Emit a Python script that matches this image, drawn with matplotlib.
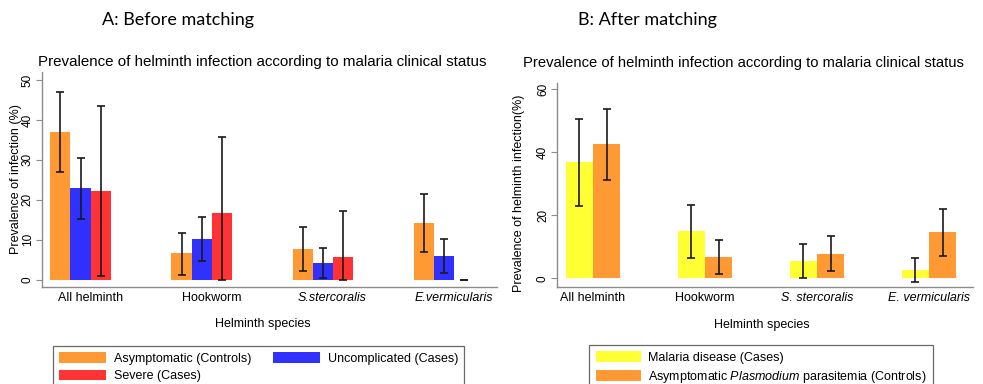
import matplotlib
matplotlib.use("Agg")
import matplotlib.pyplot as plt
import numpy as np
from matplotlib.patches import Patch

plt.rcParams['font.family'] = ['Liberation Sans', 'DejaVu Sans']
plt.rcParams['mathtext.fontset'] = 'custom'
plt.rcParams['mathtext.it'] = 'Liberation Sans:italic'
plt.rcParams['mathtext.rm'] = 'Liberation Sans'

# ---------------- data ----------------
species = ["All helminth", "Hookworm", "S.stercoralis", "E.vermicularis"]
species_b = ["All helminth", "Hookworm", "S. stercoralis", "E. vermicularis"]
italic_flags = [False, False, True, True]

# Panel A: before matching
asym_a = [36.9, 6.6, 7.7, 14.1]
asym_a_lo = [26.9, 1.3, 2.3, 7.0]
asym_a_hi = [46.9, 11.7, 13.2, 21.4]
uncomp_a = [22.9, 10.1, 4.2, 5.9]
uncomp_a_lo = [15.2, 4.8, 0.5, 1.6]
uncomp_a_hi = [30.5, 15.7, 8.0, 10.3]
severe_a = [22.2, 16.6, 5.6, 0.0]
severe_a_lo = [0.9, 0.0, 0.0, 0.0]
severe_a_hi = [43.5, 35.7, 17.3, 0.0]

# Panel B: after matching
cases_b = [36.8, 14.9, 5.4, 2.75]
cases_b_lo = [23.1, 6.6, 0.1, -1.2]
cases_b_hi = [50.5, 23.4, 10.8, 6.6]
ctrl_b = [42.5, 6.7, 7.8, 14.6]
ctrl_b_lo = [31.2, 1.5, 2.2, 7.1]
ctrl_b_hi = [53.9, 12.1, 13.5, 21.9]

yticks_a = [0, 10, 20, 30, 40, 50]
yticks_b = [0, 20, 40, 60]

ORANGE = "#FF9933"
BLUE = "#3030FF"
RED = "#FF3333"
YELLOW = "#FFFF33"
AXCOL = "#8c8c8c"
ERRCOL = "#1a1a1a"

W, H = 983, 384
fig = plt.figure(figsize=(W / 100, H / 100), dpi=100)


def px_axes(x0, x1, ytop, ybot):
    return fig.add_axes([x0 / W, 1 - ybot / H, (x1 - x0) / W, (ybot - ytop) / H])


def style_axes(ax, yticks, ylabel):
    for s in ["top", "right"]:
        ax.spines[s].set_visible(False)
    for s in ["left", "bottom"]:
        ax.spines[s].set_color(AXCOL)
        ax.spines[s].set_linewidth(1.0)
    ax.set_yticks(yticks)
    ax.set_yticklabels([str(t) for t in yticks], rotation=90, va="center", fontsize=8.5)
    ax.tick_params(axis="y", length=4, width=0.8, color=AXCOL, pad=2)
    ax.tick_params(axis="x", length=0, pad=4)
    ax.set_ylabel(ylabel, fontsize=9)
    ax.set_xlabel("Helminth species", fontsize=9, labelpad=6)


def errbars(ax, x, vals, lo, hi):
    vals = np.array(vals); lo = np.array(lo); hi = np.array(hi)
    ax.errorbar(x, vals, yerr=[vals - lo, hi - vals], fmt="none", ecolor=ERRCOL,
                elinewidth=1.2, capsize=2.6, capthick=1.2, zorder=3)


# ---------------- Panel A ----------------
axA = px_axes(42, 497, 72, 286.7)
g = np.arange(len(species))
bw = 1 / 6
series_a = [(asym_a, asym_a_lo, asym_a_hi, ORANGE),
            (uncomp_a, uncomp_a_lo, uncomp_a_hi, BLUE),
            (severe_a, severe_a_lo, severe_a_hi, RED)]
for i, (v, lo, hi, c) in enumerate(series_a):
    x = g + (i - 1) * bw
    axA.bar(x, v, width=bw, color=c, edgecolor="none", zorder=2)
    errbars(axA, x, v, lo, hi)
axA.set_xlim(-0.318, 3.437)
axA.set_ylim(-1.75, 52)
axA.set_xticks(g + 0.08)
axA.set_xticklabels(species, fontsize=9)
for lab, it in zip(axA.get_xticklabels(), italic_flags):
    if it:
        lab.set_fontstyle("italic")
style_axes(axA, yticks_a, "Prevalence of infection (%)")
axA.yaxis.set_label_coords(-0.044, 0.5)
axA.xaxis.set_label_coords((262.7 - 42) / (497 - 42), -0.148)

# ---------------- Panel B ----------------
axB = px_axes(557.3, 973, 82.7, 286.7)
bw2 = 0.245
series_b = [(cases_b, cases_b_lo, cases_b_hi, YELLOW),
            (ctrl_b, ctrl_b_lo, ctrl_b_hi, ORANGE)]
for i, (v, lo, hi, c) in enumerate(series_b):
    x = g + (i - 0.5) * bw2
    axB.bar(x, v, width=bw2, color=c, edgecolor="none", zorder=2)
    errbars(axB, x, v, lo, hi)
axB.set_xlim(-0.319, 3.393)
axB.set_ylim(-2.67, 62.1)
axB.set_xticks(g)
axB.set_xticklabels(species_b, fontsize=9)
for lab, it in zip(axB.get_xticklabels(), italic_flags):
    if it:
        lab.set_fontstyle("italic")
style_axes(axB, yticks_b, "Prevalence of helminth infection(%)")
axB.yaxis.set_label_coords(-0.078, 0.46)
axB.xaxis.set_label_coords((761.7 - 557.3) / (973 - 557.3), -0.16)

# ---------------- titles ----------------
title = "Prevalence of helminth infection according to malaria clinical status"
fig.text(262 / W, 1 - 62 / H, title, ha="center", va="center", fontsize=10.9)
fig.text(743 / W, 1 - 62.7 / H, title, ha="center", va="center", fontsize=10.6)
fig.text(177.5 / W, 1 - 20 / H, "A: Before matching", ha="center", va="center",
         fontsize=13, family=["Lato", "DejaVu Sans"])
fig.text(647 / W, 1 - 20 / H, "B: After matching", ha="center", va="center",
         fontsize=13, family=["Lato", "DejaVu Sans"])

# ---------------- legends ----------------
hA = [Patch(facecolor=ORANGE, edgecolor="none"),
      Patch(facecolor=RED, edgecolor="none"),
      Patch(facecolor=BLUE, edgecolor="none")]
lA = ["Asymptomatic (Controls)", "Severe (Cases)", "Uncomplicated (Cases)"]
legA = fig.legend(hA, lA, loc="upper left", bbox_to_anchor=(52.7 / W, 1 - 345.7 / H),
                  ncol=2, fontsize=9, frameon=True, fancybox=False,
                  handlelength=3.8, handleheight=0.95, handletextpad=0.6,
                  labelspacing=0.4, columnspacing=1.7, borderpad=0.5,
                  borderaxespad=0)
legA.get_frame().set_edgecolor("#444444")
legA.get_frame().set_linewidth(0.9)

hB = [Patch(facecolor=YELLOW, edgecolor="none"),
      Patch(facecolor=ORANGE, edgecolor="none")]
lB = ["Malaria disease (Cases)",
      r"Asymptomatic $\it{Plasmodium}$ parasitemia (Controls)"]
legB = fig.legend(hB, lB, loc="upper left", bbox_to_anchor=(589.3 / W, 1 - 345 / H),
                  ncol=1, fontsize=9, frameon=True, fancybox=False,
                  handlelength=3.6, handleheight=0.95, handletextpad=0.6,
                  labelspacing=0.4, borderpad=0.5, borderaxespad=0)
legB.get_frame().set_edgecolor("#444444")
legB.get_frame().set_linewidth(0.9)

fig.savefig("out.png", dpi=100)
